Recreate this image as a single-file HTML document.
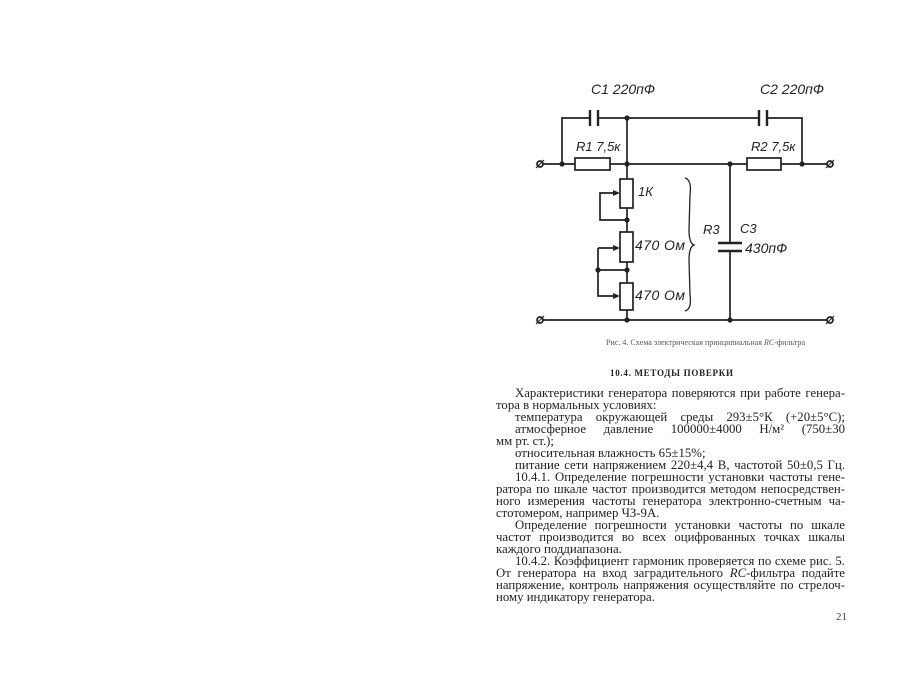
<!DOCTYPE html>
<html><head><meta charset="utf-8"><style>
html,body{margin:0;padding:0;background:#fff;}
body{width:900px;height:694px;position:relative;overflow:hidden;font-family:"Liberation Serif",serif;color:#222;}
.l{position:absolute;left:496px;width:349px;font-size:12.8px;line-height:12px;white-space:nowrap;text-align:justify;text-align-last:justify;}
.i{left:515px;width:330px;}
.n{text-align-last:left;}
</style></head><body>
<svg width="900" height="694" style="position:absolute;left:0;top:0" fill="none" stroke="#222" stroke-width="1.7">
<polyline points="562,164 562,118 590,118"/>
<polyline points="598,118 759,118"/>
<polyline points="767,118 802,118 802,164"/>
<line x1="590" y1="110" x2="590" y2="126" stroke-width="2.4"/>
<line x1="598" y1="110" x2="598" y2="126" stroke-width="2.4"/>
<line x1="759" y1="110" x2="759" y2="126" stroke-width="2.4"/>
<line x1="767" y1="110" x2="767" y2="126" stroke-width="2.4"/>
<line x1="627" y1="118" x2="627" y2="179"/>
<line x1="543" y1="164" x2="575" y2="164"/>
<rect x="575" y="158" width="35" height="12" fill="#fff"/>
<line x1="610" y1="164" x2="747" y2="164"/>
<rect x="747" y="158" width="34" height="12" fill="#fff"/>
<line x1="781" y1="164" x2="827" y2="164"/>
<circle cx="540" cy="164" r="3"/><line x1="536" y1="168" x2="544" y2="160" stroke-width="1.2"/>
<circle cx="830" cy="164" r="3"/><line x1="826" y1="168" x2="834" y2="160" stroke-width="1.2"/>
<rect x="620" y="179" width="13" height="29" fill="#fff"/>
<line x1="627" y1="208" x2="627" y2="232"/>
<rect x="620" y="232" width="13" height="30" fill="#fff"/>
<line x1="627" y1="262" x2="627" y2="283"/>
<rect x="620" y="283" width="13" height="27" fill="#fff"/>
<line x1="627" y1="310" x2="627" y2="320"/>
<polyline points="627,220 600,220 600,193 617,193"/>
<polyline points="598,248 598,270 627,270"/>
<polyline points="617,248 598,248"/>
<polyline points="598,270 598,296 617,296"/>
<g fill="#222" stroke="none">
<polygon points="620,193 613,190 613,196"/>
<polygon points="620,248 613,245 613,251"/>
<polygon points="620,296 613,293 613,299"/>
<circle cx="562" cy="164" r="2.6"/><circle cx="627" cy="118" r="2.6"/><circle cx="627" cy="164" r="2.6"/>
<circle cx="730" cy="164" r="2.6"/><circle cx="802" cy="164" r="2.6"/>
<circle cx="627" cy="220" r="2.6"/><circle cx="627" cy="270" r="2.6"/><circle cx="598" cy="270" r="2.6"/>
<circle cx="627" cy="320" r="2.6"/><circle cx="730" cy="320" r="2.6"/>
</g>
<line x1="730" y1="164" x2="730" y2="243"/>
<line x1="718" y1="243" x2="742" y2="243" stroke-width="2.6"/>
<line x1="718" y1="251" x2="742" y2="251" stroke-width="2.6"/>
<line x1="730" y1="251" x2="730" y2="320"/>
<line x1="543" y1="320" x2="827" y2="320"/>
<circle cx="540" cy="320" r="3"/><line x1="536" y1="324" x2="544" y2="316" stroke-width="1.2"/>
<circle cx="830" cy="320" r="3"/><line x1="826" y1="324" x2="834" y2="316" stroke-width="1.2"/>
<path d="M685,178 Q692,180 690,195 L689,230 Q689,243 694,245 Q689,247 689,260 L690,295 Q692,309 685,311" stroke-width="1.3"/>
<g fill="#222" stroke="none" font-family="Liberation Sans,sans-serif" font-style="italic" font-size="14">
<text x="591" y="94">C1  220пФ</text>
<text x="760" y="94">C2  220пФ</text>
<text x="576" y="151" font-size="13">R1 7,5к</text>
<text x="751" y="151" font-size="13">R2 7,5к</text>
<text x="638" y="196" font-size="13">1К</text>
<text x="635" y="250" textLength="50">470 Ом</text>
<text x="635" y="300" textLength="50">470 Ом</text>
<text x="703" y="234" font-size="13">R3</text>
<text x="740" y="233" font-size="13">C3</text>
<text x="745" y="253">430пФ</text>
</g>
<text x="606" y="345" fill="#555" stroke="none" font-size="8" textLength="199" font-family="Liberation Serif,serif">Рис. 4. Схема электрическая принципиальная <tspan font-style="italic">RC</tspan>-фильтра</text>
<text x="610" y="376" fill="#222" stroke="none" font-size="9" font-weight="bold" textLength="123" font-family="Liberation Serif,serif">10.4. МЕТОДЫ ПОВЕРКИ</text>
<text x="836" y="620" fill="#444" stroke="none" font-size="11" font-family="Liberation Serif,serif">21</text>
</svg>
<div class="l i" style="top:387px">Характеристики генератора поверяются при работе генера-</div>
<div class="l n" style="top:399px">тора в нормальных условиях:</div>
<div class="l i" style="top:411px">температура окружающей среды 293±5°К (+20±5°С);</div>
<div class="l i" style="top:423px">атмосферное давление 100000±4000 Н/м² (750±30</div>
<div class="l n" style="top:435px">мм рт. ст.);</div>
<div class="l i n" style="top:447px">относительная влажность 65±15%;</div>
<div class="l i" style="top:459px">питание сети напряжением 220±4,4 В, частотой 50±0,5 Гц.</div>
<div class="l i" style="top:471px">10.4.1. Определение погрешности установки частоты гене-</div>
<div class="l" style="top:483px">ратора по шкале частот производится методом непосредствен-</div>
<div class="l" style="top:495px">ного измерения частоты генератора электронно-счетным ча-</div>
<div class="l n" style="top:507px">стотомером, например ЧЗ-9А.</div>
<div class="l i" style="top:519px">Определение погрешности установки частоты по шкале</div>
<div class="l" style="top:531px">частот производится во всех оцифрованных точках шкалы</div>
<div class="l n" style="top:543px">каждого поддиапазона.</div>
<div class="l i" style="top:555px">10.4.2. Коэффициент гармоник проверяется по схеме рис. 5.</div>
<div class="l" style="top:567px">От генератора на вход заградительного <i>RC</i>-фильтра подайте</div>
<div class="l" style="top:579px">напряжение, контроль напряжения осуществляйте по стрелоч-</div>
<div class="l n" style="top:591px">ному индикатору генератора.</div>
</body></html>
